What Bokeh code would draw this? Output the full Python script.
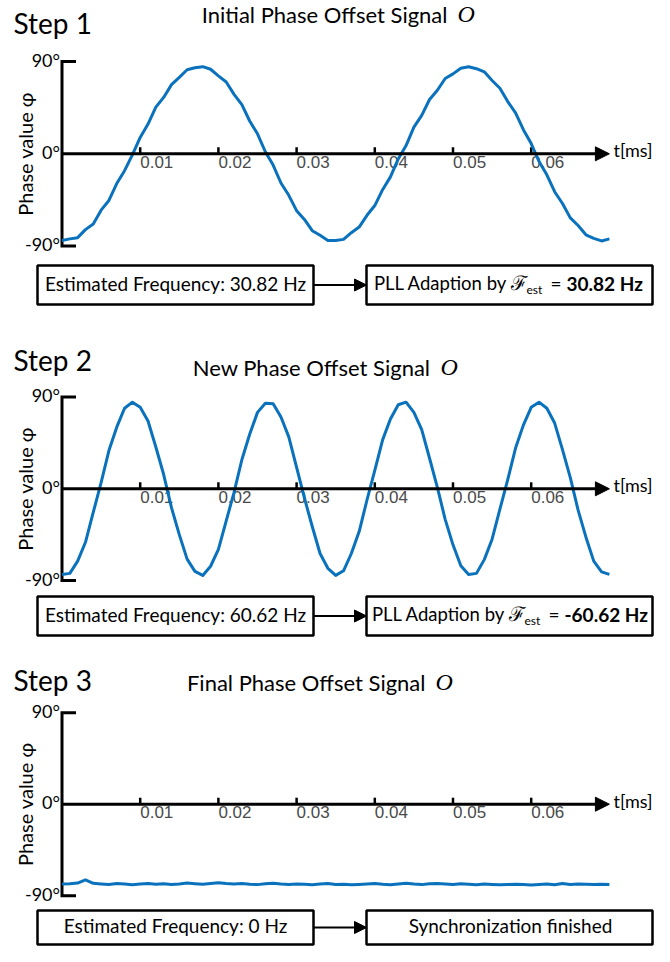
from bokeh.plotting import figure
from bokeh.models import Range1d, Arrow, NormalHead
from bokeh.core.properties import value
from bokeh.embed import file_html
from bokeh.resources import INLINE
import math

# ---------------- data ----------------
T = [0.000, 0.001, 0.002, 0.003, 0.004, 0.005, 0.006, 0.007, 0.008, 0.009,
     0.010, 0.011, 0.012, 0.013, 0.014, 0.015, 0.016, 0.017, 0.018, 0.019,
     0.020, 0.021, 0.022, 0.023, 0.024, 0.025, 0.026, 0.027, 0.028, 0.029,
     0.030, 0.031, 0.032, 0.033, 0.034, 0.035, 0.036, 0.037, 0.038, 0.039,
     0.040, 0.041, 0.042, 0.043, 0.044, 0.045, 0.046, 0.047, 0.048, 0.049,
     0.050, 0.051, 0.052, 0.053, 0.054, 0.055, 0.056, 0.057, 0.058, 0.059,
     0.060, 0.061, 0.062, 0.063, 0.064, 0.065, 0.066, 0.067, 0.068, 0.069,
     0.070]

PHI_STEP1 = [-84.5, -83.0, -81.8, -74.0, -68.5, -55.0, -45.5, -29.0, -16.5, -1.0,
             16.0, 29.0, 45.5, 55.0, 67.5, 74.5, 82.0, 84.0, 85.0, 82.5,
             76.0, 70.0, 58.0, 48.0, 32.0, 19.5, 2.0, -11.0, -28.5, -40.5,
             -55.5, -64.0, -75.0, -79.5, -84.5, -84.5, -83.5, -77.0, -71.5, -60.0,
             -50.5, -35.0, -22.5, -5.0, 8.0, 26.0, 37.5, 53.0, 62.0, 73.5,
             78.0, 83.5, 85.0, 83.0, 80.0, 71.5, 64.0, 51.0, 40.0, 23.5,
             10.0, -7.5, -20.5, -37.0, -48.5, -62.5, -70.0, -79.0, -82.5, -85.0,
             -83.0]

PHI_STEP2 = [-84.0, -83.0, -71.0, -52.5, -23.0, 6.0, 37.5, 60.5, 79.0, 85.0,
             80.0, 66.5, 41.0, 14.0, -18.5, -45.0, -69.0, -81.0, -85.0, -76.0,
             -59.5, -31.5, -3.5, 28.5, 53.5, 75.0, 84.0, 83.5, 70.5, 51.0,
             21.0, -9.0, -37.0, -63.5, -78.0, -85.0, -80.5, -63.5, -42.0, -11.0,
             18.0, 48.0, 68.5, 82.5, 85.0, 75.0, 58.0, 30.0, 1.5, -30.0,
             -55.0, -75.5, -84.0, -83.0, -69.5, -49.5, -20.0, 9.0, 40.0, 62.5,
             80.0, 85.0, 79.0, 64.5, 38.5, 11.0, -21.0, -47.5, -71.0, -81.5,
             -84.0]

PHI_STEP3 = [-78.5, -78.2, -77.6, -74.5, -77.8, -78.4, -78.9, -78.1, -78.6, -79.2,
             -78.4, -78.0, -78.7, -78.3, -78.9, -78.5, -77.6, -78.2, -78.8, -77.9,
             -77.2, -78.1, -78.6, -78.0, -78.7, -79.1, -78.3, -77.8, -78.6, -79.0,
             -78.4, -78.8, -79.3, -78.6, -78.1, -79.0, -78.7, -79.2, -78.9, -78.5,
             -78.0, -78.8, -79.3, -78.4, -77.7, -78.6, -79.1, -78.3, -77.9, -78.5,
             -79.0, -78.2, -78.7, -79.2, -78.6, -78.9, -79.3, -79.0, -78.7, -79.1,
             -79.4, -79.0, -78.6, -79.2, -78.1, -78.9, -78.5, -78.8, -79.0, -78.7,
             -79.1]

X_TICKS = [0.01, 0.02, 0.03, 0.04, 0.05, 0.06]
X_TICK_LABELS = ["0.01", "0.02", "0.03", "0.04", "0.05", "0.06"]
Y_TICKS = [90, 0, -90]
Y_TICK_LABELS = ["90°", "0°", "-90°"]
T_AXIS_END = 0.0700
X_LABEL = "t[ms]"
Y_LABEL = "Phase value φ"

STEP_LABELS = ["Step 1", "Step 2", "Step 3"]
TITLES = ["Initial Phase Offset Signal", "New Phase Offset Signal", "Final Phase Offset Signal"]
TITLE_SYMBOL = "O"
EST_TEXTS = ["Estimated Frequency: 30.82 Hz", "Estimated Frequency: 60.62 Hz",
             "Estimated Frequency: 0 Hz"]
ADAPT_VALUES = ["30.82 Hz", "-60.62 Hz", None]
FINAL_TEXT = "Synchronization finished"
SERIES = [PHI_STEP1, PHI_STEP2, PHI_STEP3]

# ---------------- layout (pixels of the figure) ----------------
W, H = 654, 946
XS = 7820.0   # px per time unit
X0 = 61.5     # px position of t = 0
SHIFT = 0.45  # baseline correction (em) observed for the svg text renderer


def xd(px):
    return (px - X0) / XS


PANELS = [
    dict(name="default", y0=153.3, k=1.025, step_base=35, title_base=24,
         sig_end=447, box=(265, 304), adapt_x=378),
    dict(name="s2", y0=488.3, k=1.019, step_base=372, title_base=377,
         sig_end=430, box=(596, 635), adapt_x=376),
    dict(name="s3", y0=803.7, k=1.0167, step_base=692, title_base=692,
         sig_end=425, box=(910, 944), adapt_x=None),
]


def yrange(pn):
    return Range1d(start=(pn["y0"] - H) / pn["k"], end=pn["y0"] / pn["k"])


def yd(py, pn):
    return (pn["y0"] - py) / pn["k"]


p = figure(width=W, height=H, x_range=Range1d(xd(0), xd(W)),
           y_range=yrange(PANELS[0]), min_border=0,
           toolbar_location=None, output_backend="svg",
           x_axis_location=None, y_axis_location=None)
p.outline_line_color = None
p.xgrid.grid_line_color = None
p.ygrid.grid_line_color = None
p.extra_y_ranges = {"s2": yrange(PANELS[1]), "s3": yrange(PANELS[2])}

BLUE = "#0a72bd"
SANS = value("Lato")


def txt(x, y, s, pn, size, align="left", font=SANS, style="normal",
        color="black", rotated=False):
    """x, y in data units; y is the wanted baseline."""
    if rotated:
        x = [v - SHIFT * size / XS for v in x]
        angle = math.pi / 2
    else:
        y = [v + SHIFT * size / pn["k"] for v in y]
        angle = 0.0
    p.text(x=x, y=y, text=s, text_font=font, text_font_style=style,
           text_font_size="%gpx" % size, text_color=color, text_align=align,
           text_baseline="alphabetic", angle=angle, y_range_name=pn["name"])


for i, pn in enumerate(PANELS):
    rn = pn["name"]
    k = pn["k"]

    # step label and title
    txt([xd(13)], [yd(pn["step_base"], pn)], [STEP_LABELS[i]], pn, 28)
    txt([xd(pn["sig_end"])], [yd(pn["title_base"], pn)], [TITLES[i]], pn, 22,
        align="right")
    txt([xd(pn["sig_end"] + 10)], [yd(pn["title_base"], pn)], [TITLE_SYMBOL], pn,
        24, font=value("Liberation Serif"), style="italic")

    # y axis bracket
    serif = xd(X0 + 14)
    p.line(x=[serif, 0, 0, serif], y=[Y_TICKS[0], Y_TICKS[0], Y_TICKS[2], Y_TICKS[2]],
           line_color="black", line_width=3, line_join="miter", y_range_name=rn)
    txt([xd(59.5)] * 3, [v - 6.3 / k for v in Y_TICKS], Y_TICK_LABELS, pn, 18,
        align="right")
    txt([xd(33)], [0], [Y_LABEL], pn, 20, align="center", rotated=True)

    # x axis with arrow
    p.add_layout(Arrow(x_start=0, y_start=0, x_end=T_AXIS_END, y_end=0,
                       line_color="black", line_width=3,
                       end=NormalHead(size=14, fill_color="black",
                                      line_color="black", line_width=1),
                       y_range_name=rn))
    p.segment(x0=X_TICKS, y0=[0] * len(X_TICKS), x1=X_TICKS,
              y1=[6.5 / k] * len(X_TICKS), line_color="black", line_width=2.5,
              y_range_name=rn)
    txt(X_TICKS, [-15.5 / k] * len(X_TICKS), X_TICK_LABELS, pn, 17,
        font=value("Liberation Sans"), color="#4a4a4a")
    txt([xd(613)], [-4.5 / k], [X_LABEL], pn, 18)

    # signal
    p.line(x=T, y=SERIES[i], line_color=BLUE, line_width=3, line_join="round",
           y_range_name=rn)

    # boxes
    top, bot = pn["box"]
    mid = (top + bot) / 2.0
    p.quad(left=[xd(37)], right=[xd(313)], top=[yd(top, pn)], bottom=[yd(bot, pn)],
           fill_color="white", line_color="black", line_width=2.5, y_range_name=rn)
    p.quad(left=[xd(366)], right=[xd(652)], top=[yd(top, pn)], bottom=[yd(bot, pn)],
           fill_color="white", line_color="black", line_width=2.5, y_range_name=rn)
    base = yd(mid + 6.8, pn)
    txt([xd(175)], [base], [EST_TEXTS[i]], pn, 19, align="center")
    p.add_layout(Arrow(x_start=xd(313), y_start=yd(mid, pn), x_end=xd(366),
                       y_end=yd(mid, pn), line_color="black", line_width=2,
                       end=NormalHead(size=12, fill_color="black",
                                      line_color="black", line_width=1),
                       y_range_name=rn))

    if ADAPT_VALUES[i] is not None:
        ax = pn["adapt_x"]
        txt([xd(ax + 129)], [base], ["PLL Adaption by"], pn, 18.5, align="right")
        txt([xd(ax + 132)], [base], ["ℱ"], pn, 20, font=value("DejaVu Serif"))
        txt([xd(ax + 148)], [yd(mid + 10, pn)], ["est"], pn, 12)
        txt([xd(ax + 172)], [base], ["="], pn, 19)
        txt([xd(ax + 188)], [base], [ADAPT_VALUES[i]], pn, 19, style="bold")
    else:
        txt([xd(510)], [base], [FINAL_TEXT], pn, 19, align="center")

open("out.html", "w").write(file_html(p, INLINE))
